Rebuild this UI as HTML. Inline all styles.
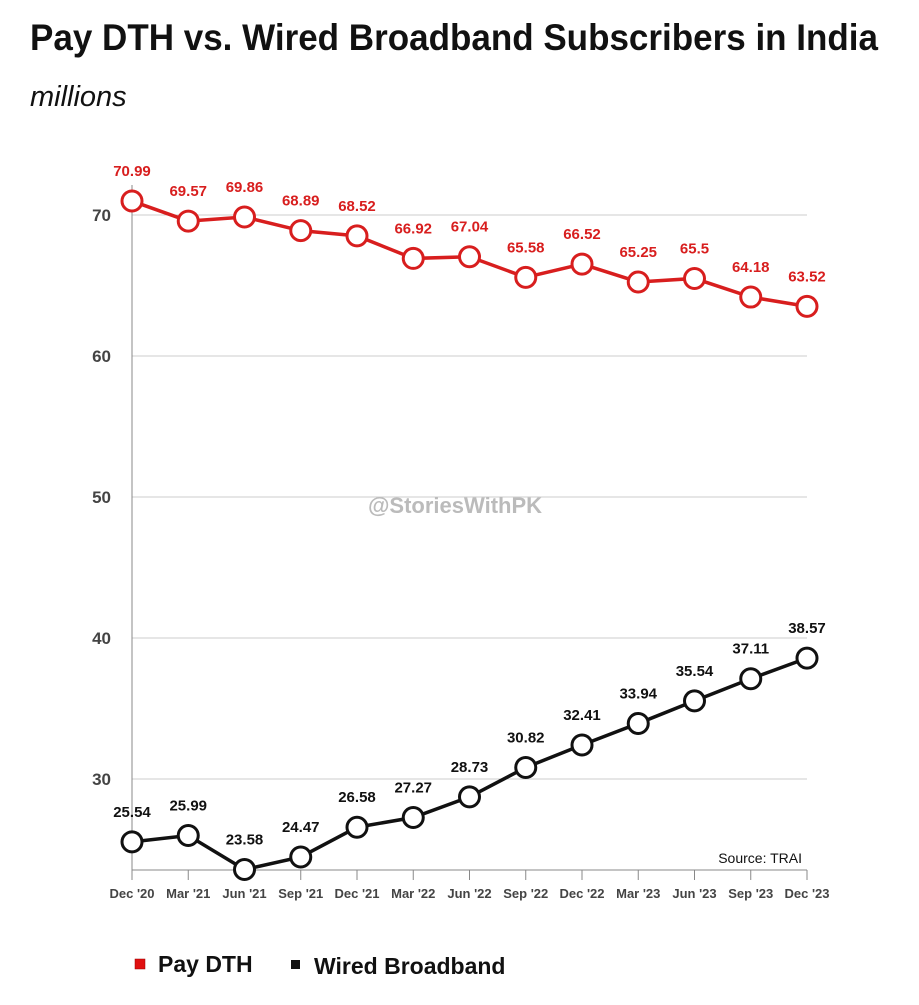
<!DOCTYPE html>
<html><head><meta charset="utf-8">
<style>
body{margin:0;background:#fff;width:919px;height:1000px;overflow:hidden;font-family:"Liberation Sans",sans-serif}
</style></head>
<body>
<svg width="919" height="1000" xmlns="http://www.w3.org/2000/svg">
<text x="30" y="50" font-size="37" font-weight="bold" fill="#111" textLength="848" lengthAdjust="spacingAndGlyphs">Pay DTH vs. Wired Broadband Subscribers in India</text>
<text x="30" y="106" font-size="29" font-style="italic" fill="#111">millions</text>
<g id="grid"></g>
<text x="455" y="513" font-size="22" font-weight="bold" fill="#bbb" text-anchor="middle">@StoriesWithPK</text>
<text x="802" y="863" font-size="14" fill="#111" text-anchor="end">Source: TRAI</text>
<g id="series"></g>
<rect x="135" y="959" width="10" height="10" fill="#e01010" stroke="#900" stroke-width="0.5"/>
<text x="158" y="972" font-size="23" font-weight="bold" fill="#111">Pay DTH</text>
<rect x="291" y="960" width="9" height="9" fill="#111"/>
<text x="314" y="974" font-size="23" font-weight="bold" fill="#111">Wired Broadband</text>
</svg>
<script>
const categories=["Dec '20","Mar '21","Jun '21","Sep '21","Dec '21","Mar '22","Jun '22","Sep '22","Dec '22","Mar '23","Jun '23","Sep '23","Dec '23"];
const payDTH=[70.99,69.57,69.86,68.89,68.52,66.92,67.04,65.58,66.52,65.25,65.5,64.18,63.52];
const wiredBroadband=[25.54,25.99,23.58,24.47,26.58,27.27,28.73,30.82,32.41,33.94,35.54,37.11,38.57];
const yTicks=[30,40,50,60,70];
const NS="http://www.w3.org/2000/svg";
const x0=132,x1=807;
function xs(i){return x0+(x1-x0)*i/(categories.length-1);}
function ys(v){return 779-(v-30)*14.1;}
function mk(tag,attrs,parent){const e=document.createElementNS(NS,tag);for(const k in attrs)e.setAttribute(k,attrs[k]);parent.appendChild(e);return e;}
const grid=document.getElementById('grid');
yTicks.forEach(t=>{
  const l=mk('line',{x1:x0,x2:x1,y1:ys(t),y2:ys(t),stroke:'#ccc','stroke-width':1},grid);
  
  
  const tx=mk('text',{x:111,y:ys(t)+6,'font-size':17,'font-weight':'bold',fill:'#444','text-anchor':'end'},grid);
  tx.textContent=t;
  
  
});
const ax=mk('line',{x1:x0,x2:x0,y1:185,y2:870,stroke:'#888','stroke-width':1},grid);


const bx=mk('line',{x1:x0,x2:x1,y1:870,y2:870,stroke:'#888','stroke-width':1},grid);


categories.forEach((c,i)=>{
  const tk=mk('line',{x1:xs(i),x2:xs(i),y1:870,y2:880,stroke:'#888','stroke-width':1},grid);
  
  
  const t=mk('text',{x:xs(i),y:898,'font-size':13,'font-weight':'bold',fill:'#444','text-anchor':'middle'},grid);
  t.textContent=c;
  
  
});
const sg=document.getElementById('series');
function drawSeries(vals,color,name){
  const p=mk('polyline',{points:vals.map((v,i)=>xs(i)+','+ys(v)).join(' '),fill:'none',stroke:color,'stroke-width':3.5},sg);
  
  
  vals.forEach((v,i)=>{
    const c=mk('circle',{cx:xs(i),cy:ys(v),r:10,fill:'#fff',stroke:color,'stroke-width':3},sg);
    
    
    const t=mk('text',{x:xs(i),y:ys(v)-25,'font-size':15,'font-weight':'bold',fill:color,'text-anchor':'middle'},sg);
    t.textContent=v;
    
    
  });
}
drawSeries(payDTH,'#d81e1e','pay-dth');
drawSeries(wiredBroadband,'#111','wired-broadband');
</script>
</body></html>
